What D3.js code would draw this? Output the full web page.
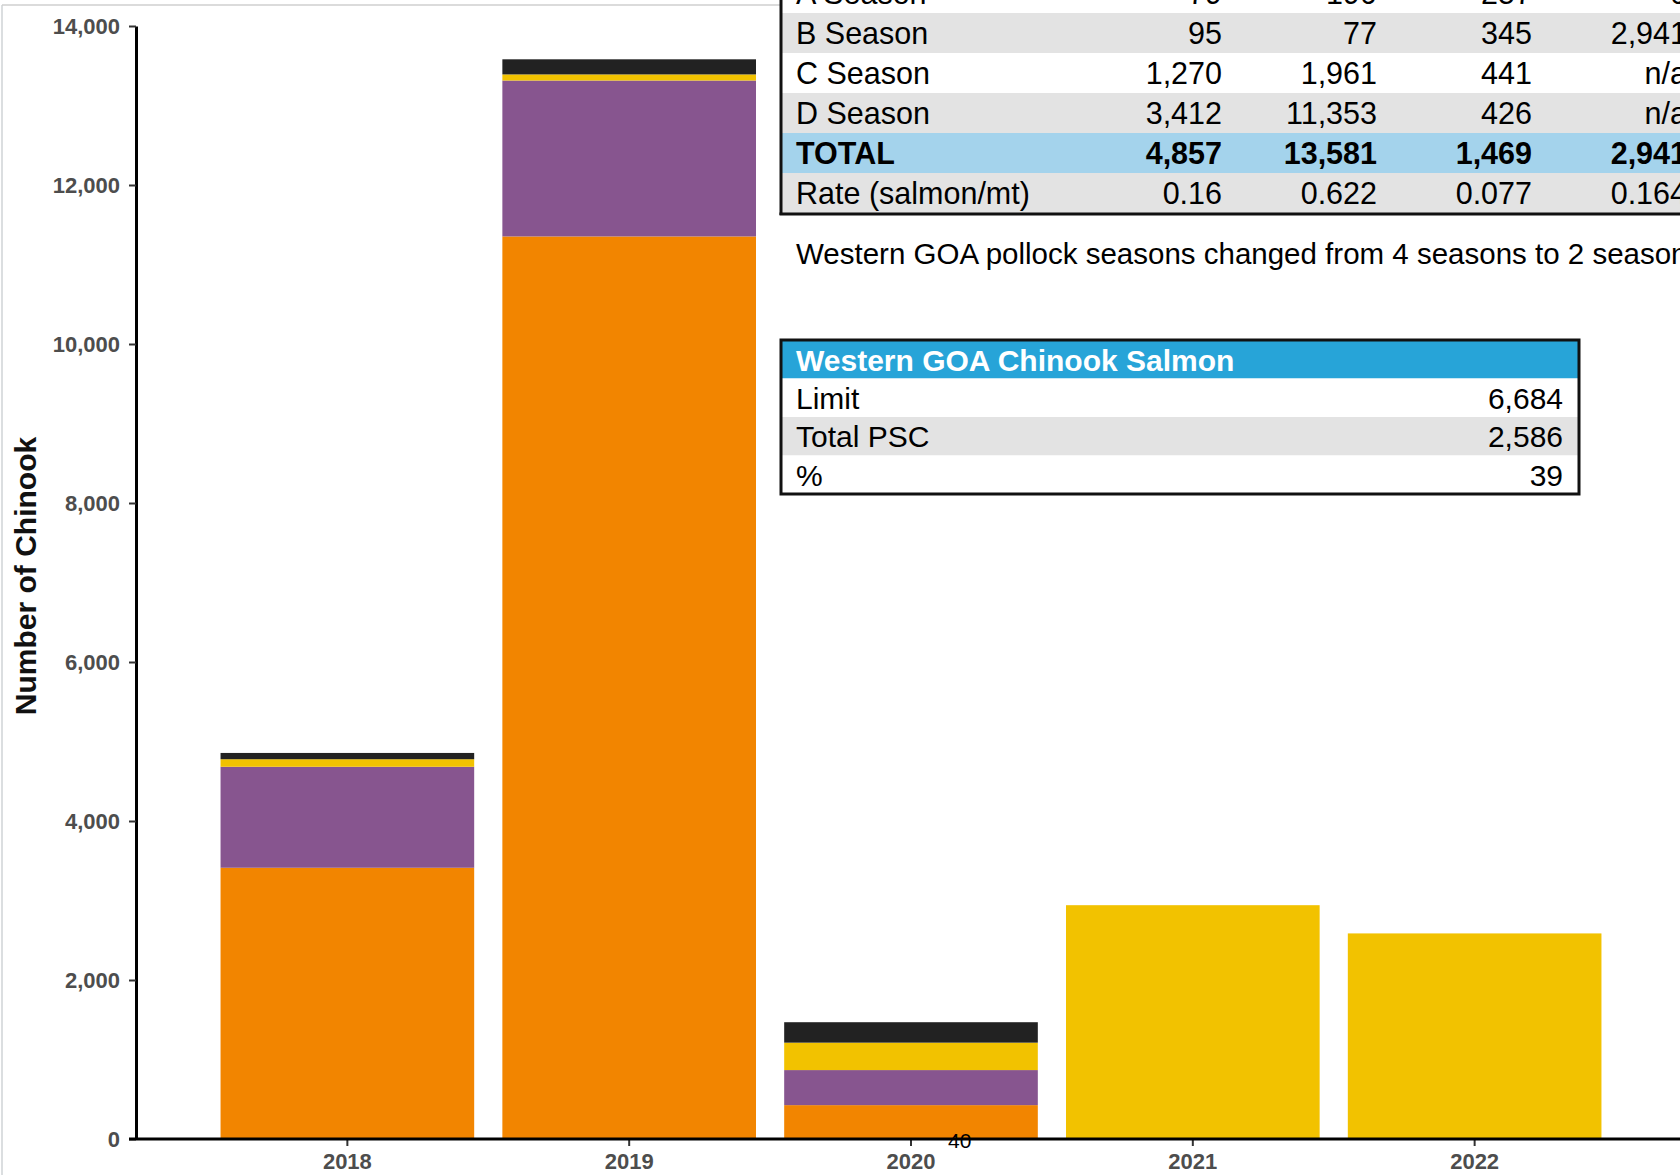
<!DOCTYPE html>
<html>
<head>
<meta charset="utf-8">
<script src="https://cdn.jsdelivr.net/npm/d3@7"></script>
<style>
  html, body { margin: 0; padding: 0; background: #fff; overflow: hidden; }
  svg { display: block; font-family: "Liberation Sans", Arial, Helvetica, sans-serif; }
</style>
</head>
<body>
<svg id="chart" width="1680" height="1175"></svg>
<script>
// ---------------- data ----------------
const years = ["2018", "2019", "2020", "2021", "2022"];
const seasonD = [3412, 11353, 426, 0, 0];
const seasonC = [1270, 1961, 441, 0, 0];
const seasonB = [95, 77, 345, 2941, 2586];
const seasonA = [79, 190, 257, 0, 0];
const seriesKeys = ["D", "C", "B", "A"];          // stacking order, bottom -> top
const seriesColors = ["#f28500", "#87558f", "#f2c200", "#222222"];
const yTicks = [0, 2000, 4000, 6000, 8000, 10000, 12000, 14000];
const yMax = 14000;

// table (partly off-page) values
const tableCols = ["2018", "2019", "2020", "2021"];
const rowA = ["79", "190", "257", "0"];
const rowB = ["95", "77", "345", "2,941"];
const rowC = ["1,270", "1,961", "441", "n/a"];
const rowD = ["3,412", "11,353", "426", "n/a"];
const rowTotal = ["4,857", "13,581", "1,469", "2,941"];
const rowRate = ["0.16", "0.622", "0.077", "0.164"];
const noteText = "Western GOA pollock seasons changed from 4 seasons to 2 seasons";

const chinookTitle = "Western GOA Chinook Salmon";
const chinookLabels = ["Limit", "Total PSC", "%"];
const chinookValues = ["6,684", "2,586", "39"];
const strayLabel = "40";

// ---------------- chart ----------------
const svg = d3.select("#chart");
const FONT = '"Liberation Sans", Arial, Helvetica, sans-serif';

// outer light frame
svg.append("line").attr("x1", 2).attr("x2", 2).attr("y1", 5).attr("y2", 1175)
  .attr("stroke", "#cfd3d6").attr("stroke-width", 1.5);
svg.append("line").attr("x1", 2).attr("x2", 785).attr("y1", 5).attr("y2", 5)
  .attr("stroke", "#cfcfcf").attr("stroke-width", 1.5);

const x = d3.scaleBand().domain(years).range([136, 1686]).paddingInner(0.1).paddingOuter(0.3);
const y = d3.scaleLinear().domain([0, yMax]).range([1139, 26]);

const rows = years.map((yr, i) => ({ year: yr, D: seasonD[i], C: seasonC[i], B: seasonB[i], A: seasonA[i] }));
const stacked = d3.stack().keys(seriesKeys)(rows);

const gBars = svg.append("g");
stacked.forEach((layer, li) => {
  gBars.selectAll(null).data(layer).enter().append("rect")
    .attr("x", d => x(d.data.year))
    .attr("width", x.bandwidth())
    .attr("y", d => y(d[1]))
    .attr("height", d => Math.max(0, y(d[0]) - y(d[1])))
    .attr("fill", seriesColors[li]);
});

// y axis
const yAxis = svg.append("g").attr("transform", "translate(136,0)")
  .call(d3.axisLeft(y).tickValues(yTicks).tickFormat(d3.format(",")).tickSize(7).tickSizeOuter(0).tickPadding(9));
yAxis.select(".domain").attr("stroke", "#000").attr("stroke-width", 3);
yAxis.selectAll(".tick line").attr("stroke", "#333").attr("stroke-width", 2);
yAxis.selectAll(".tick text").attr("fill", "#4d4d4d").style("font-family", FONT)
  .style("font-size", "22px").style("font-weight", "bold");

// x axis
const xAxis = svg.append("g").attr("transform", "translate(0,1139)")
  .call(d3.axisBottom(x).tickSize(7).tickSizeOuter(0).tickPadding(7));
xAxis.select(".domain").remove();
xAxis.selectAll(".tick line").attr("stroke", "#333").attr("stroke-width", 2);
xAxis.selectAll(".tick text").attr("fill", "#4d4d4d").style("font-family", FONT)
  .style("font-size", "22px").style("font-weight", "bold");
svg.append("line").attr("x1", 129).attr("x2", 1680).attr("y1", 1139).attr("y2", 1139)
  .attr("stroke", "#000").attr("stroke-width", 3);

// y axis title
svg.append("text")
  .attr("transform", "translate(36,576) rotate(-90)")
  .attr("text-anchor", "middle")
  .style("font-family", FONT).style("font-size", "30px").style("font-weight", "bold")
  .attr("fill", "#111")
  .text("Number of Chinook");

// stray label
svg.append("text").attr("x", 948).attr("y", 1148)
  .style("font-family", FONT).style("font-size", "21px").attr("fill", "#000")
  .text(strayLabel);

// ---------------- top table (cropped) ----------------
const tX0 = 781, tX1 = 1680;
const labelX = 796;
const colRight = [1222, 1377, 1532, 1687];
const rowH = 40;
const tableRows = [
  { label: "A Season", vals: rowA, fill: "#ffffff", bold: false, top: -27 },
  { label: "B Season", vals: rowB, fill: "#e3e3e3", bold: false, top: 13 },
  { label: "C Season", vals: rowC, fill: "#ffffff", bold: false, top: 53 },
  { label: "D Season", vals: rowD, fill: "#e3e3e3", bold: false, top: 93 },
  { label: "TOTAL", vals: rowTotal, fill: "#a4d3ec", bold: true, top: 133 },
  { label: "Rate (salmon/mt)", vals: rowRate, fill: "#e3e3e3", bold: false, top: 173 }
];
const gT = svg.append("g");
tableRows.forEach(r => {
  gT.append("rect").attr("x", tX0).attr("y", r.top).attr("width", tX1 - tX0).attr("height", rowH).attr("fill", r.fill);
  gT.append("text").attr("x", labelX).attr("y", r.top + 31)
    .style("font-family", FONT).style("font-size", "30.5px").style("font-weight", r.bold ? "bold" : "normal")
    .attr("fill", "#000").text(r.label);
  r.vals.forEach((v, i) => {
    gT.append("text").attr("x", colRight[i]).attr("y", r.top + 31).attr("text-anchor", "end")
      .style("font-family", FONT).style("font-size", "30.5px").style("font-weight", r.bold ? "bold" : "normal")
      .attr("fill", "#000").text(v);
  });
});
gT.append("line").attr("x1", tX0).attr("x2", tX0).attr("y1", 0).attr("y2", 215).attr("stroke", "#111").attr("stroke-width", 3);
gT.append("line").attr("x1", tX0 - 1.5).attr("x2", tX1).attr("y1", 214).attr("y2", 214).attr("stroke", "#111").attr("stroke-width", 3);

svg.append("text").attr("x", labelX).attr("y", 264)
  .style("font-family", FONT).style("font-size", "29.5px").attr("fill", "#000").text(noteText);

// ---------------- Chinook table ----------------
const cX0 = 781, cX1 = 1579, cTop = 340, cRowH = 38.5;
const gC = svg.append("g");
gC.append("rect").attr("x", cX0).attr("y", cTop).attr("width", cX1 - cX0).attr("height", cRowH).attr("fill", "#27a4d8");
gC.append("text").attr("x", labelX).attr("y", cTop + 31)
  .style("font-family", FONT).style("font-size", "30px").style("font-weight", "bold")
  .attr("fill", "#fff").text(chinookTitle);
chinookLabels.forEach((lab, i) => {
  const top = cTop + cRowH * (i + 1);
  gC.append("rect").attr("x", cX0).attr("y", top).attr("width", cX1 - cX0).attr("height", cRowH)
    .attr("fill", i === 1 ? "#e3e3e3" : "#ffffff");
  gC.append("text").attr("x", labelX).attr("y", top + 30)
    .style("font-family", FONT).style("font-size", "30px").attr("fill", "#000").text(lab);
  gC.append("text").attr("x", 1563).attr("y", top + 30).attr("text-anchor", "end")
    .style("font-family", FONT).style("font-size", "30px").attr("fill", "#000").text(chinookValues[i]);
});
gC.append("rect").attr("x", cX0).attr("y", cTop).attr("width", cX1 - cX0).attr("height", cRowH * 4)
  .attr("fill", "none").attr("stroke", "#111").attr("stroke-width", 3);
</script>
</body>
</html>
